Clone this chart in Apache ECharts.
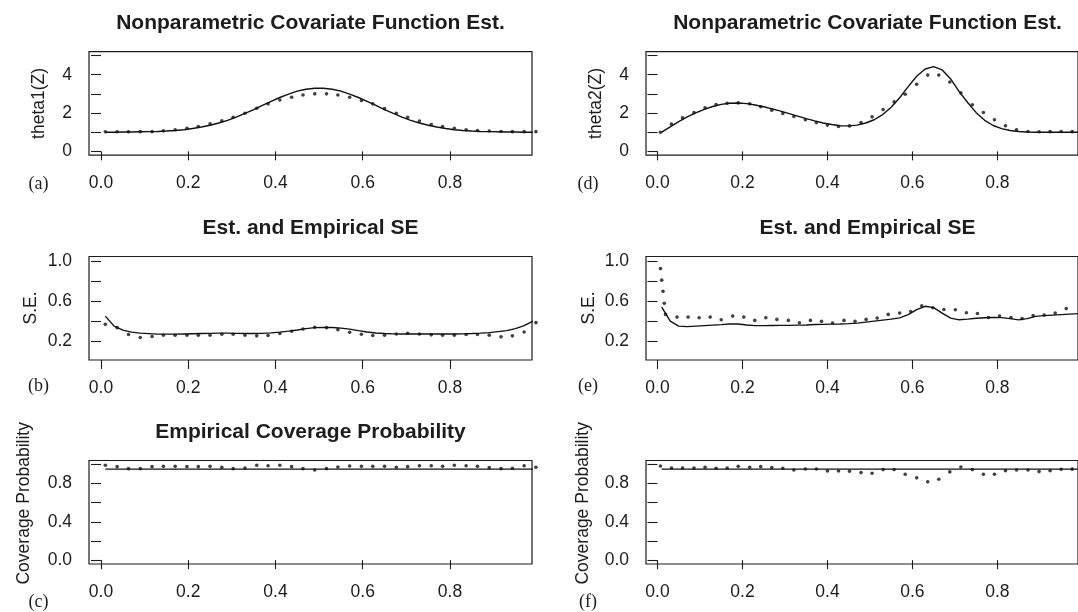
<!DOCTYPE html>
<html><head><meta charset="utf-8">
<script src="https://cdn.jsdelivr.net/npm/echarts@6/dist/echarts.min.js"></script>
<style>html,body{margin:0;padding:0;background:#fff}#c{width:1078px;height:612px}</style>
</head><body><div id="c"></div>
<script>
// ---- x positions ----
const xCurve = [0.01,0.03,0.05,0.07,0.09,0.11,0.13,0.15,0.17,0.19,0.21,0.23,0.25,0.27,0.29,0.31,0.33,0.35,0.37,0.39,0.41,0.43,0.45,0.47,0.49,0.51,0.53,0.55,0.57,0.59,0.61,0.63,0.65,0.67,0.69,0.71,0.73,0.75,0.77,0.79,0.81,0.83,0.85,0.87,0.89,0.91,0.93,0.95,0.97,0.99];
const xDotsL = [0.010,0.037,0.063,0.090,0.117,0.143,0.170,0.197,0.223,0.250,0.277,0.303,0.330,0.357,0.383,0.410,0.437,0.463,0.490,0.517,0.543,0.570,0.597,0.623,0.650,0.677,0.703,0.730,0.757,0.783,0.810,0.837,0.863,0.890,0.917,0.943,0.970,0.997];
const xDotsR = [0.007,0.033,0.059,0.086,0.112,0.138,0.164,0.190,0.217,0.243,0.269,0.295,0.321,0.348,0.374,0.400,0.426,0.452,0.479,0.505,0.531,0.557,0.583,0.610,0.636,0.662,0.688,0.714,0.741,0.767,0.793,0.819,0.845,0.872,0.898,0.924,0.950,0.976];
const xDotsE = [0.007,0.010,0.013,0.016,0.019,0.046,0.072,0.098,0.124,0.150,0.177,0.203,0.229,0.255,0.281,0.308,0.334,0.360,0.386,0.412,0.439,0.465,0.491,0.517,0.543,0.570,0.596,0.622,0.648,0.674,0.701,0.727,0.753,0.779,0.805,0.832,0.858,0.884,0.910,0.936,0.962];
const xLine = [0.01, 0.99];

// ---- (a) theta1 ----
const theta1True = [1.00,1.00,1.01,1.01,1.02,1.03,1.04,1.06,1.09,1.13,1.19,1.27,1.36,1.48,1.62,1.79,1.98,2.18,2.40,2.61,2.81,2.99,3.14,3.24,3.29,3.29,3.24,3.14,2.99,2.81,2.61,2.40,2.18,1.98,1.79,1.62,1.48,1.36,1.27,1.19,1.13,1.09,1.06,1.04,1.03,1.02,1.01,1.01,1.00,1.00];
const theta1Est = [1.02,1.02,1.02,1.03,1.03,1.07,1.13,1.21,1.30,1.44,1.59,1.78,1.99,2.25,2.48,2.68,2.82,2.94,3.00,3.00,2.94,2.82,2.65,2.48,2.23,1.99,1.78,1.58,1.40,1.30,1.21,1.13,1.09,1.06,1.04,1.03,1.03,1.03];
// ---- (b) SE theta1 ----
const se1Est = [0.45,0.35,0.31,0.29,0.28,0.275,0.27,0.27,0.27,0.272,0.274,0.276,0.278,0.28,0.28,0.278,0.276,0.276,0.278,0.283,0.29,0.30,0.312,0.325,0.335,0.338,0.336,0.33,0.32,0.305,0.292,0.282,0.276,0.273,0.272,0.272,0.272,0.272,0.272,0.272,0.272,0.273,0.276,0.28,0.285,0.295,0.305,0.325,0.355,0.40];
const se1Emp = [0.368,0.335,0.266,0.236,0.246,0.259,0.259,0.259,0.259,0.259,0.269,0.269,0.259,0.253,0.256,0.276,0.299,0.322,0.338,0.335,0.315,0.289,0.269,0.256,0.259,0.272,0.279,0.272,0.263,0.260,0.260,0.266,0.266,0.260,0.243,0.253,0.292,0.385];
// ---- (c) coverage theta1 ----
const nominal1 = [0.95, 0.95];
const cover1 = [0.990,0.976,0.955,0.955,0.976,0.979,0.979,0.976,0.976,0.979,0.969,0.955,0.962,0.990,0.986,0.990,0.976,0.955,0.941,0.955,0.972,0.983,0.979,0.979,0.979,0.969,0.976,0.986,0.986,0.979,0.990,0.986,0.979,0.966,0.955,0.959,0.986,0.970];
// ---- (d) theta2 ----
const theta2True = [1.00,1.28,1.55,1.80,2.01,2.19,2.34,2.45,2.51,2.52,2.49,2.42,2.33,2.22,2.10,1.97,1.84,1.71,1.59,1.48,1.40,1.34,1.33,1.37,1.48,1.65,1.92,2.30,2.80,3.38,3.92,4.30,4.42,4.25,3.78,3.12,2.55,2.02,1.62,1.35,1.19,1.09,1.04,1.01,1.00,1.00,1.00,1.00,1.00,1.00];
const theta2Est = [1.00,1.42,1.75,2.02,2.27,2.44,2.51,2.53,2.48,2.33,2.15,1.98,1.82,1.65,1.50,1.37,1.30,1.33,1.50,1.80,2.18,2.58,2.98,3.50,3.98,3.98,3.62,3.05,2.43,2.03,1.65,1.34,1.13,1.04,1.02,1.03,1.04,1.03];
// ---- (e) SE theta2 ----
const se2Est = [0.54,0.40,0.35,0.345,0.35,0.355,0.36,0.365,0.372,0.372,0.362,0.355,0.355,0.357,0.358,0.358,0.36,0.362,0.366,0.368,0.37,0.372,0.375,0.38,0.39,0.40,0.41,0.42,0.432,0.465,0.515,0.548,0.535,0.48,0.43,0.413,0.42,0.428,0.434,0.436,0.435,0.425,0.412,0.425,0.447,0.455,0.46,0.465,0.47,0.475];
const se2Emp = [0.924,0.809,0.697,0.579,0.467,0.440,0.440,0.434,0.440,0.414,0.450,0.440,0.407,0.434,0.417,0.407,0.384,0.407,0.398,0.381,0.407,0.398,0.417,0.430,0.467,0.480,0.496,0.552,0.533,0.516,0.513,0.483,0.476,0.436,0.450,0.436,0.425,0.455,0.460,0.480,0.525];
// ---- (f) coverage theta2 ----
const nominal2 = [0.95, 0.95];
const cover2 = [0.983,0.962,0.962,0.962,0.969,0.959,0.962,0.979,0.969,0.976,0.966,0.959,0.941,0.952,0.952,0.931,0.931,0.928,0.914,0.907,0.945,0.945,0.897,0.859,0.817,0.845,0.921,0.972,0.945,0.897,0.897,0.934,0.941,0.941,0.924,0.934,0.948,0.950];

// ---- tick values / labels ----
const xTicks = [0, 0.2, 0.4, 0.6, 0.8];
const thetaTicks = [0, 1, 2, 3, 4, 5], thetaLabels = [0, 2, 4];
const seTicks = [0.2, 0.4, 0.6, 0.8, 1.0], seLabels = [0.2, 0.6, 1.0];
const covTicks = [0, 0.2, 0.4, 0.6, 0.8, 1.0], covLabels = [0, 0.4, 0.8];

const titles = ['Nonparametric Covariate Function Est.', 'Est. and Empirical SE', 'Empirical Coverage Probability',
                'Nonparametric Covariate Function Est.', 'Est. and Empirical SE', ''];
const yNames = ['theta1(Z)', 'S.E.', 'Coverage Probability', 'theta2(Z)', 'S.E.', 'Coverage Probability'];
const letters = ['(a)', '(b)', '(c)', '(d)', '(e)', '(f)'];

const zip = (xs, ys) => ys.map((v, i) => [xs[i], v]);
const INK = '#1c1c1c';
const FONT = '"Liberation Sans", Arial, sans-serif';

const tops = [51.7, 256.5, 460.5];
const H = 103.5, W = 443;
const lefts = [89, 646];
const yCfg = [
  {min: -0.2, max: 5.2, ticks: thetaTicks, labels: thetaLabels, fmt: v => String(Math.round(v))},
  {min: 0.012, max: 1.045, ticks: seTicks, labels: seLabels, fmt: v => v.toFixed(1)},
  {min: -0.04, max: 1.04, ticks: covTicks, labels: covLabels, fmt: v => v.toFixed(1)}
];
const panels = [
  {c: 0, r: 0, line: [xCurve, theta1True], dots: [xDotsL, theta1Est]},
  {c: 0, r: 1, line: [xCurve, se1Est], dots: [xDotsL, se1Emp]},
  {c: 0, r: 2, line: [xLine, nominal1], dots: [xDotsL, cover1]},
  {c: 1, r: 0, line: [xCurve, theta2True], dots: [xDotsR, theta2Est]},
  {c: 1, r: 1, line: [xCurve, se2Est], dots: [xDotsE, se2Emp]},
  {c: 1, r: 2, line: [xLine, nominal2], dots: [xDotsR, cover2]}
];
const yLabX = [[39, 31, 24], [596, 589, 583.5]];
const yLabY = [103.4, 308, 503.3];
const letterY = [184.3, 386.5, 602];
const letterX = [38.5, 588];

const grid = [], xAxis = [], yAxis = [], series = [], graphic = [];
panels.forEach((p, i) => {
  const left = lefts[p.c], top = tops[p.r];
  grid.push({left: left, top: top, width: W, height: H, show: true, borderColor: INK, borderWidth: 1.2, backgroundColor: 'transparent', containLabel: false});
  const xmin = p.c === 0 ? -0.0275 : -0.027;
  const xmax = p.c === 0 ? 0.988 : -0.027 + W / 435.75;
  xAxis.push({type: 'value', gridIndex: i, min: xmin, max: xmax,
    axisLine: {show: false}, splitLine: {show: false},
    axisTick: {show: true, customValues: xTicks, length: 9, lineStyle: {color: INK, width: 1.1}},
    axisLabel: {customValues: xTicks, formatter: v => v.toFixed(1), margin: 19, color: INK, fontSize: 17.5, fontFamily: FONT, lineHeight: 18}});
  const yc = yCfg[p.r];
  yAxis.push({type: 'value', gridIndex: i, min: yc.min, max: yc.max,
    axisLine: {show: false}, splitLine: {show: false},
    axisTick: {show: true, customValues: yc.ticks, length: 10, lineStyle: {color: INK, width: 1.1}},
    axisLabel: {customValues: yc.labels, formatter: yc.fmt, margin: 17, color: INK, fontSize: 17.5, fontFamily: FONT}});
  series.push({type: 'line', xAxisIndex: i, yAxisIndex: i, data: zip(p.line[0], p.line[1]), showSymbol: false, symbol: 'none',
    lineStyle: {color: '#111', width: 1.4}, clip: true, silent: true, z: 3});
  series.push({type: 'scatter', xAxisIndex: i, yAxisIndex: i, data: zip(p.dots[0], p.dots[1]), symbol: 'circle', symbolSize: 3.6,
    itemStyle: {color: '#111'}, clip: false, silent: true, z: 4});
  const centerX = p.c === 0 ? left + W / 2 : (646 + 1089) / 2;
  if (titles[i]) graphic.push({type: 'text', x: centerX, y: top - 28, style: {text: titles[i], font: 'bold 21px ' + FONT, fill: INK, textAlign: 'center', textVerticalAlign: 'middle', align: 'center', verticalAlign: 'middle'}});
  graphic.push({type: 'text', x: yLabX[p.c][p.r], y: yLabY[p.r], rotation: Math.PI / 2, style: {text: yNames[i], font: '17.5px ' + FONT, fill: INK, textAlign: 'center', textVerticalAlign: 'middle', align: 'center', verticalAlign: 'middle'}});
  graphic.push({type: 'text', x: letterX[p.c], y: letterY[p.r], style: {text: letters[i], font: '18px "Liberation Serif", "Times New Roman", serif', fill: INK, textAlign: 'center', textVerticalAlign: 'middle', align: 'center', verticalAlign: 'middle'}});
});

const chart = echarts.init(document.getElementById('c'), null, {renderer: 'canvas'});
chart.setOption({animation: false, backgroundColor: '#fff', grid, xAxis, yAxis, series, graphic});
</script>
</body></html>
